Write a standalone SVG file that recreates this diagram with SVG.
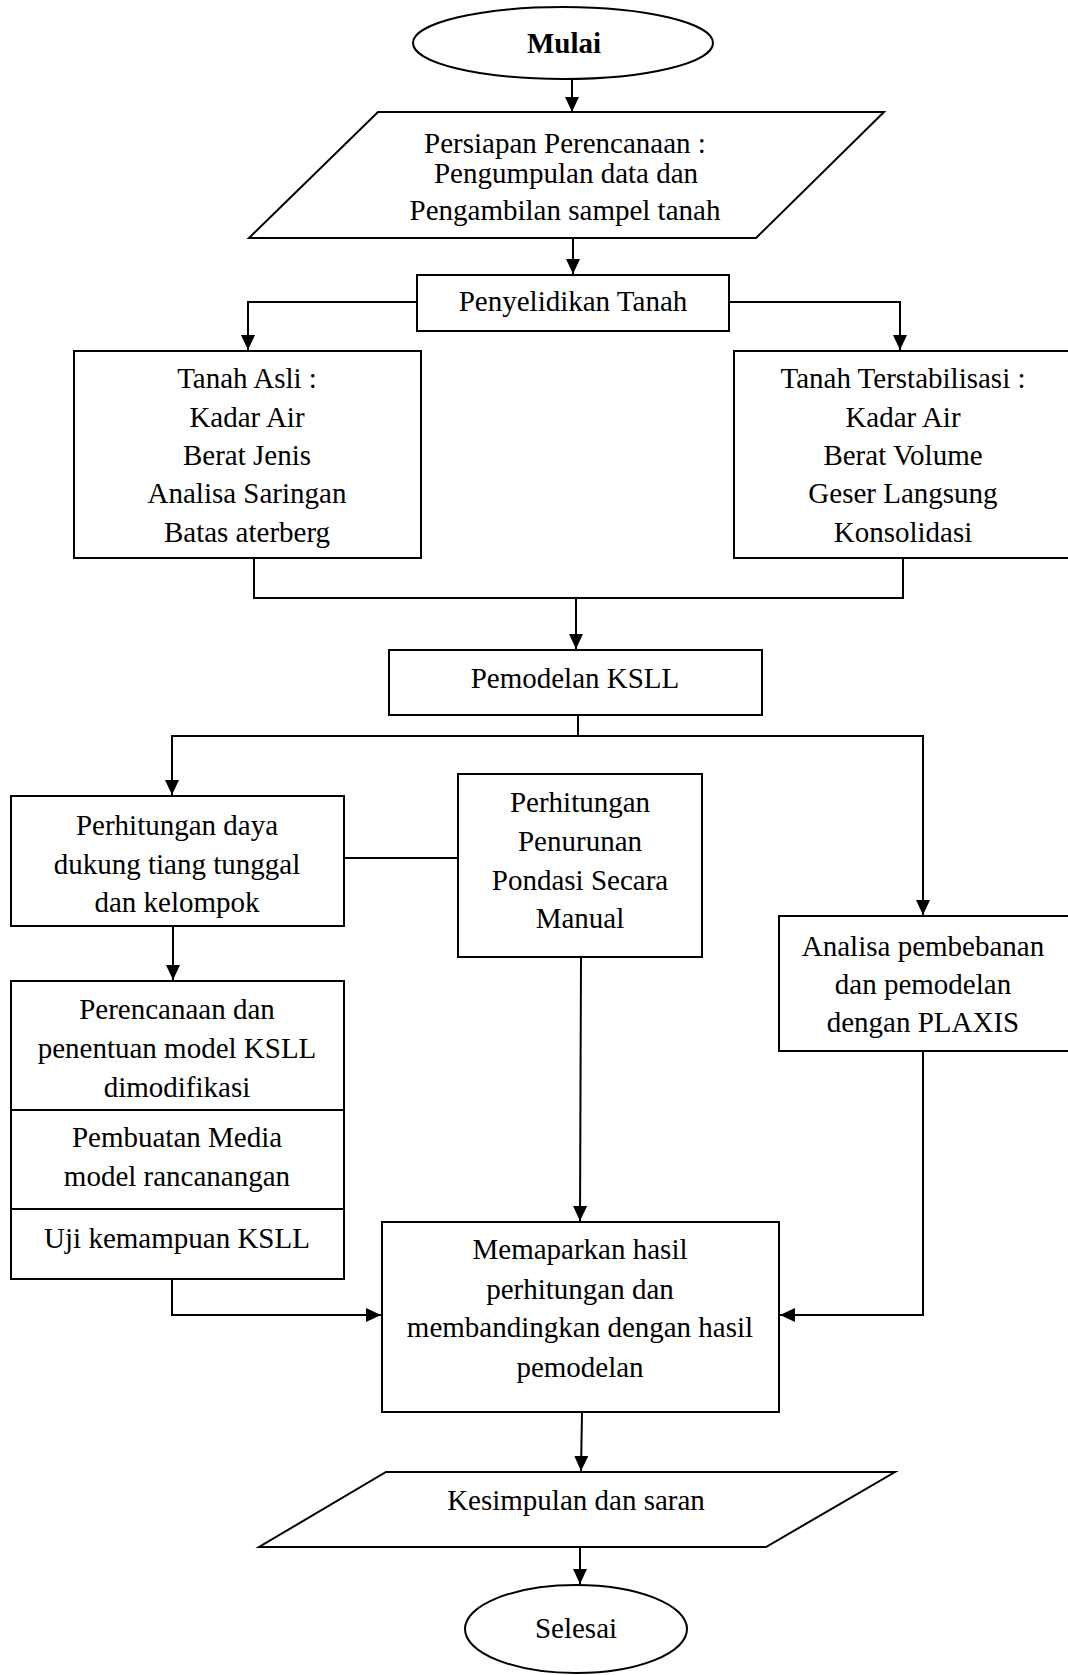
<svg xmlns="http://www.w3.org/2000/svg" width="1068" height="1675" viewBox="0 0 1068 1675">
<defs>
<style>
.box{fill:#fff;stroke:#000;stroke-width:2}
.t{font-family:"Liberation Serif","Times New Roman",serif;font-size:29px;fill:#000;text-anchor:middle}
.b{font-weight:bold}
.c{fill:none;stroke:#000;stroke-width:2}
</style>
<marker id="ah" markerUnits="userSpaceOnUse" markerWidth="16" markerHeight="14" refX="15" refY="7" orient="auto">
<path d="M0,0 L15,7 L0,14 z" fill="#000"/>
</marker>
</defs>
<rect width="1068" height="1675" fill="#fff"/>

<g id="connectors">
<path class="c" d="M572,79 L572,112" marker-end="url(#ah)"/>
<path class="c" d="M573,238 L573,274" marker-end="url(#ah)"/>
<path class="c" d="M417,302 L248,302 L248,350" marker-end="url(#ah)"/>
<path class="c" d="M729,302 L900,302 L900,350" marker-end="url(#ah)"/>
<path class="c" d="M254,558 L254,598 L903,598 L903,558"/>
<path class="c" d="M576,598 L576,649" marker-end="url(#ah)"/>
<path class="c" d="M578,715 L578,736"/>
<path class="c" d="M578,736 L172,736 L172,795" marker-end="url(#ah)"/>
<path class="c" d="M578,736 L923,736 L923,915" marker-end="url(#ah)"/>
<path class="c" d="M344,858 L458,858"/>
<path class="c" d="M173,926 L173,980" marker-end="url(#ah)"/>
<path class="c" d="M581,957 L580,1221" marker-end="url(#ah)"/>
<path class="c" d="M172,1279 L172,1315 L381,1315" stroke-width="3" marker-end="url(#ah)"/>
<path class="c" d="M923,1051 L923,1315 L780,1315" stroke-width="3" marker-end="url(#ah)"/>
<path class="c" d="M582,1412 L581,1471" marker-end="url(#ah)"/>
<path class="c" d="M580,1547 L580,1584" marker-end="url(#ah)"/>
</g>

<g id="mulai">
<ellipse class="box" cx="563" cy="43" rx="150" ry="36"/>
<text class="t b" x="564" y="53">Mulai</text>
</g>

<g id="persiapan">
<polygon class="box" points="378,112 884,112 756,238 249,238"/>
<text class="t" x="565" y="153">Persiapan Perencanaan :</text>
<text class="t" x="566" y="183">Pengumpulan data dan</text>
<text class="t" x="565" y="220">Pengambilan sampel tanah</text>
</g>

<g id="penyelidikan">
<rect class="box" x="417" y="275" width="312" height="56"/>
<text class="t" x="573" y="311">Penyelidikan Tanah</text>
</g>

<g id="tanah-asli">
<rect class="box" x="74" y="351" width="347" height="207"/>
<text class="t" x="247" y="388">Tanah Asli :</text>
<text class="t" x="247" y="427">Kadar Air</text>
<text class="t" x="247" y="465">Berat Jenis</text>
<text class="t" x="247" y="503">Analisa Saringan</text>
<text class="t" x="247" y="542">Batas aterberg</text>
</g>

<g id="tanah-terstabilisasi">
<rect class="box" x="734" y="351" width="336" height="207"/>
<text class="t" x="903" y="388">Tanah Terstabilisasi :</text>
<text class="t" x="903" y="427">Kadar Air</text>
<text class="t" x="903" y="465">Berat Volume</text>
<text class="t" x="903" y="503">Geser Langsung</text>
<text class="t" x="903" y="542">Konsolidasi</text>
</g>

<g id="pemodelan">
<rect class="box" x="389" y="650" width="373" height="65"/>
<text class="t" x="575" y="688">Pemodelan KSLL</text>
</g>

<g id="daya-dukung">
<rect class="box" x="11" y="796" width="333" height="130"/>
<text class="t" x="177" y="835">Perhitungan daya</text>
<text class="t" x="177" y="874">dukung tiang tunggal</text>
<text class="t" x="177" y="912">dan kelompok</text>
</g>

<g id="penurunan">
<rect class="box" x="458" y="774" width="244" height="183"/>
<text class="t" x="580" y="812">Perhitungan</text>
<text class="t" x="580" y="851">Penurunan</text>
<text class="t" x="580" y="890">Pondasi Secara</text>
<text class="t" x="580" y="928">Manual</text>
</g>

<g id="plaxis">
<rect class="box" x="779" y="916" width="291" height="135"/>
<text class="t" x="923" y="956">Analisa pembebanan</text>
<text class="t" x="923" y="994">dan pemodelan</text>
<text class="t" x="923" y="1032">dengan PLAXIS</text>
</g>

<g id="perencanaan-stack">
<rect class="box" x="11" y="981" width="333" height="298"/>
<line class="c" x1="11" y1="1110" x2="344" y2="1110"/>
<line class="c" x1="11" y1="1209" x2="344" y2="1209"/>
<text class="t" x="177" y="1019">Perencanaan dan</text>
<text class="t" x="177" y="1058">penentuan model KSLL</text>
<text class="t" x="177" y="1097">dimodifikasi</text>
<text class="t" x="177" y="1147">Pembuatan Media</text>
<text class="t" x="177" y="1186">model rancanangan</text>
<text class="t" x="177" y="1248">Uji kemampuan KSLL</text>
</g>

<g id="memaparkan">
<rect class="box" x="382" y="1222" width="397" height="190"/>
<text class="t" x="580" y="1259">Memaparkan hasil</text>
<text class="t" x="580" y="1299">perhitungan dan</text>
<text class="t" x="580" y="1337">membandingkan dengan hasil</text>
<text class="t" x="580" y="1377">pemodelan</text>
</g>

<g id="kesimpulan">
<polygon class="box" points="386,1472 895,1472 766,1547 259,1547"/>
<text class="t" x="576" y="1510">Kesimpulan dan saran</text>
</g>

<g id="selesai">
<ellipse class="box" cx="576" cy="1629" rx="111" ry="44"/>
<text class="t" x="576" y="1638">Selesai</text>
</g>
</svg>
